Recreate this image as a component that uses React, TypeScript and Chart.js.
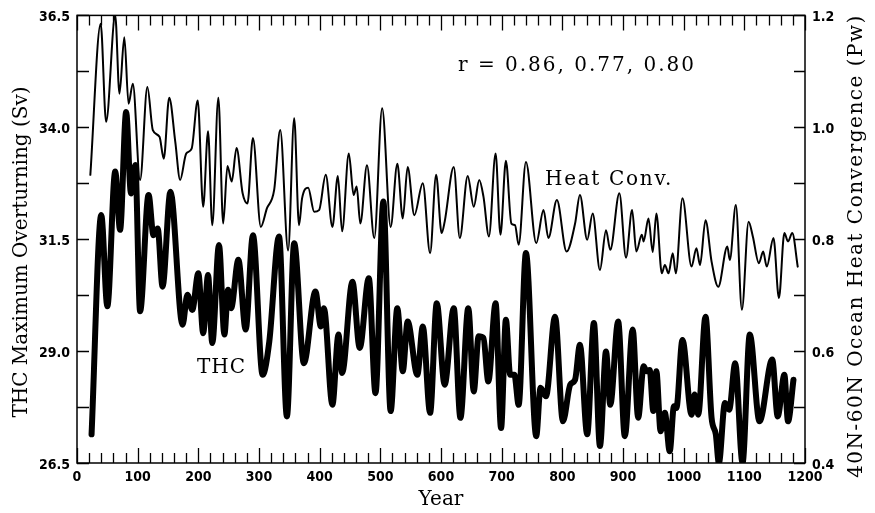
import React, { useEffect, useRef } from 'react';
import { Chart, registerables } from 'chart.js';

Chart.register(...registerables);

// ---- data ----
const thcYears = [24,40,50,63,71,81,89,96,104,118,126,133,141,154,174,182,190,200,208,216,223,234,243,249,254,266,278,290,306,317,333,346,358,374,393,402,407,421,431,437,454,466,481,492,505,517,528,537,545,561,570,582,593,606,621,632,645,654,662,670,678,690,699,707,714,721,728,740,757,764,773,788,801,813,821,829,841,852,862,872,879,892,903,916,925,934,939,944,950,955,962,969,977,984,988,998,1013,1018,1024,1036,1046,1053,1058,1068,1075,1085,1097,1109,1125,1146,1155,1166,1172,1181];
const thcValues = [27.14,32.04,30.0,33.01,31.71,34.34,32.52,33.16,29.89,32.49,31.59,31.74,30.44,32.56,29.59,30.26,29.92,30.74,29.4,30.7,29.18,31.37,29.37,30.37,29.96,31.04,29.48,31.59,28.47,29.22,31.56,27.54,31.41,28.73,30.33,29.55,29.96,27.8,29.37,28.51,30.55,29.07,30.63,28.06,32.34,27.66,29.96,28.55,29.66,28.47,29.55,27.62,30.07,28.25,29.96,27.51,29.96,28.1,29.33,29.29,28.32,30.07,27.28,29.7,28.47,28.47,27.8,31.19,27.1,28.18,27.99,29.77,27.43,28.25,28.36,29.14,27.14,29.63,26.88,28.99,27.8,29.66,27.1,29.48,27.51,28.66,28.55,28.58,27.66,28.55,27.21,27.62,26.76,27.77,27.73,29.25,27.58,28.03,27.58,29.77,27.51,27.14,26.5,27.84,27.69,28.73,26.5,29.37,27.43,28.81,27.54,28.47,27.43,28.36];

const heatYears = [22,39,48,63,70,78,85,92,104,116,125,136,143,152,162,170,180,189,199,208,216,223,233,241,248,255,263,273,281,290,303,313,325,335,348,358,366,371,381,391,399,410,421,430,437,448,456,461,467,478,490,503,517,528,537,545,556,570,582,592,601,606,621,631,644,654,663,670,679,690,698,707,716,722,728,740,757,769,777,791,807,821,829,841,850,862,872,879,894,905,915,922,931,934,942,949,955,964,969,975,982,987,998,1013,1021,1027,1036,1046,1057,1072,1076,1086,1096,1107,1114,1124,1131,1137,1148,1157,1166,1172,1179,1188];
const heatValues = [0.915,1.185,1.01,1.2,1.06,1.161,1.042,1.078,0.906,1.072,0.995,0.983,0.944,1.053,0.974,0.906,0.953,0.962,1.048,0.858,0.993,0.825,1.053,0.828,0.931,0.903,0.963,0.882,0.864,0.981,0.822,0.855,0.888,0.995,0.78,1.016,0.825,0.873,0.892,0.849,0.852,0.915,0.822,0.913,0.814,0.953,0.879,0.894,0.828,0.932,0.802,1.034,0.822,0.935,0.837,0.929,0.843,0.9,0.775,0.915,0.811,0.831,0.929,0.802,0.913,0.858,0.906,0.876,0.805,0.953,0.808,0.94,0.828,0.825,0.79,0.938,0.793,0.852,0.802,0.87,0.778,0.828,0.879,0.799,0.846,0.745,0.816,0.781,0.882,0.767,0.852,0.778,0.808,0.796,0.837,0.777,0.846,0.739,0.754,0.739,0.775,0.739,0.873,0.751,0.784,0.754,0.834,0.76,0.715,0.787,0.763,0.861,0.674,0.831,0.805,0.757,0.778,0.751,0.802,0.695,0.811,0.796,0.811,0.751];

const xTickLabels = [0,100,200,300,400,500,600,700,800,900,1000,1100,1200];
const leftTickLabels = [26.5, 29.0, 31.5, 34.0, 36.5];
const rightTickLabels = [0.4, 0.6, 0.8, 1.0, 1.2];

const leftTitle = 'THC Maximum Overturning (Sv)';
const rightTitle = '40N-60N Ocean Heat Convergence (Pw)';
const xTitle = 'Year';
const corrText = 'r = 0.86, 0.77, 0.80';
const heatLabel = 'Heat Conv.';
const thcLabel = 'THC';

const W = 875;
const H = 513;
const SERIF = "'DejaVu Serif', 'Liberation Serif', serif";
const TICKFONT = "'Liberation Sans Narrow', 'DejaVu Sans Condensed', 'Liberation Sans', sans-serif";

const framePlugin = {
  id: 'framePlugin',
  afterDraw(chart: any) {
    const { ctx, chartArea: a, scales } = chart;
    ctx.save();
    ctx.strokeStyle = '#000';
    ctx.lineWidth = 1.5;
    ctx.strokeRect(a.left, a.top, a.right - a.left, a.bottom - a.top);
    ctx.lineWidth = 1.3;
    ctx.beginPath();
    for (let yr = 0; yr <= 1200; yr += 20) {
      const px = Math.round(scales.x.getPixelForValue(yr)) + 0.5;
      const len = yr % 100 === 0 ? 15 : 10;
      ctx.moveTo(px, a.bottom);
      ctx.lineTo(px, a.bottom - len);
      ctx.moveTo(px, a.top);
      ctx.lineTo(px, a.top + len);
    }
    for (let k = 0; k <= 8; k++) {
      const py = Math.round(scales.y.getPixelForValue(26.5 + k * 1.25)) + 0.5;
      ctx.moveTo(a.left, py);
      ctx.lineTo(a.left + 12, py);
    }
    for (let k = 0; k <= 8; k++) {
      const py = Math.round(scales.y1.getPixelForValue(0.4 + k * 0.1)) + 0.5;
      ctx.moveTo(a.right - 11, py);
      ctx.lineTo(a.right, py);
    }
    ctx.stroke();

    ctx.fillStyle = '#000';
    ctx.font = `20px ${SERIF}`;
    (ctx as any).letterSpacing = '2px';
    ctx.textBaseline = 'alphabetic';
    ctx.textAlign = 'left';
    ctx.fillText(corrText, 458, 71);
    (ctx as any).letterSpacing = '1.7px';
    ctx.fillText(heatLabel, 545, 185);
    (ctx as any).letterSpacing = '1px';
    ctx.fillText(thcLabel, 197, 373);

    // axis titles
    ctx.textAlign = 'center';
    ctx.textBaseline = 'middle';
    (ctx as any).letterSpacing = '0px';
    ctx.save();
    ctx.translate(22, 252);
    ctx.rotate(-Math.PI / 2);
    ctx.fillText(leftTitle, 0, 0);
    ctx.restore();

    ctx.save();
    (ctx as any).letterSpacing = '1.5px';
    ctx.translate(857, 246);
    ctx.rotate(-Math.PI / 2);
    ctx.fillText(rightTitle, 0, 0);
    ctx.restore();

    ctx.fillText(xTitle, (a.left + a.right) / 2, 500);
    ctx.restore();
  },
};

export default function App() {
  const ref = useRef<HTMLCanvasElement>(null);
  useEffect(() => {
    if (!ref.current) return;
    const tickFont = { family: TICKFONT, size: 14, weight: 'bold' as const };
    const chart = new Chart(ref.current, {
      type: 'line',
      data: {
        datasets: [
          {
            label: 'THC',
            data: thcYears.map((x, i) => ({ x, y: thcValues[i] })),
            yAxisID: 'y',
            borderColor: '#000',
            borderWidth: 6,
            pointRadius: 0,
            cubicInterpolationMode: 'monotone',
            borderJoinStyle: 'round',
            borderCapStyle: 'round',
            fill: false,
          },
          {
            label: 'Heat Conv.',
            data: heatYears.map((x, i) => ({ x, y: heatValues[i] })),
            yAxisID: 'y1',
            borderColor: '#000',
            borderWidth: 2,
            pointRadius: 0,
            cubicInterpolationMode: 'monotone',
            borderJoinStyle: 'round',
            borderCapStyle: 'round',
            fill: false,
          },
        ],
      },
      options: {
        responsive: false,
        animation: false,
        devicePixelRatio: 1,
        layout: { padding: { top: 15, left: 0, right: 0, bottom: 0 } },
        plugins: { legend: { display: false }, tooltip: { enabled: false } },
        scales: {
          x: {
            type: 'linear',
            min: 0,
            max: 1200,
            afterBuildTicks: (s: any) => { s.ticks = xTickLabels.map((v) => ({ value: v })); },
            afterFit: (s: any) => { s.height = 50; },
            grid: { display: false, drawTicks: false },
            border: { display: false },
            ticks: { font: tickFont, color: '#000', padding: 6, maxRotation: 0, autoSkip: false, callback: (v: any) => String(v) },
          },
          y: {
            type: 'linear',
            position: 'left',
            min: 26.5,
            max: 36.5,
            afterBuildTicks: (s: any) => { s.ticks = leftTickLabels.map((v) => ({ value: v })); },
            afterFit: (s: any) => { s.width = 77; },
            grid: { display: false, drawTicks: false },
            border: { display: false },
            ticks: { font: tickFont, color: '#000', padding: 7, labelOffset: 2, autoSkip: false, callback: (v: any) => Number(v).toFixed(1) },
          },
          y1: {
            type: 'linear',
            position: 'right',
            min: 0.4,
            max: 1.2,
            afterBuildTicks: (s: any) => { s.ticks = rightTickLabels.map((v) => ({ value: v })); },
            afterFit: (s: any) => { s.width = 70; },
            grid: { display: false, drawTicks: false },
            border: { display: false },
            ticks: { font: tickFont, color: '#000', padding: 7, labelOffset: 2, autoSkip: false, callback: (v: any) => Number(v).toFixed(1) },
          },
        },
      },
      plugins: [framePlugin],
    } as any);
    return () => chart.destroy();
  }, []);

  return (
    <div style={{ position: 'fixed', left: 0, top: 0, width: W, height: H, background: '#fff' }}>
      <canvas ref={ref} width={W} height={H} style={{ display: 'block', width: W, height: H }} />
    </div>
  );
}
